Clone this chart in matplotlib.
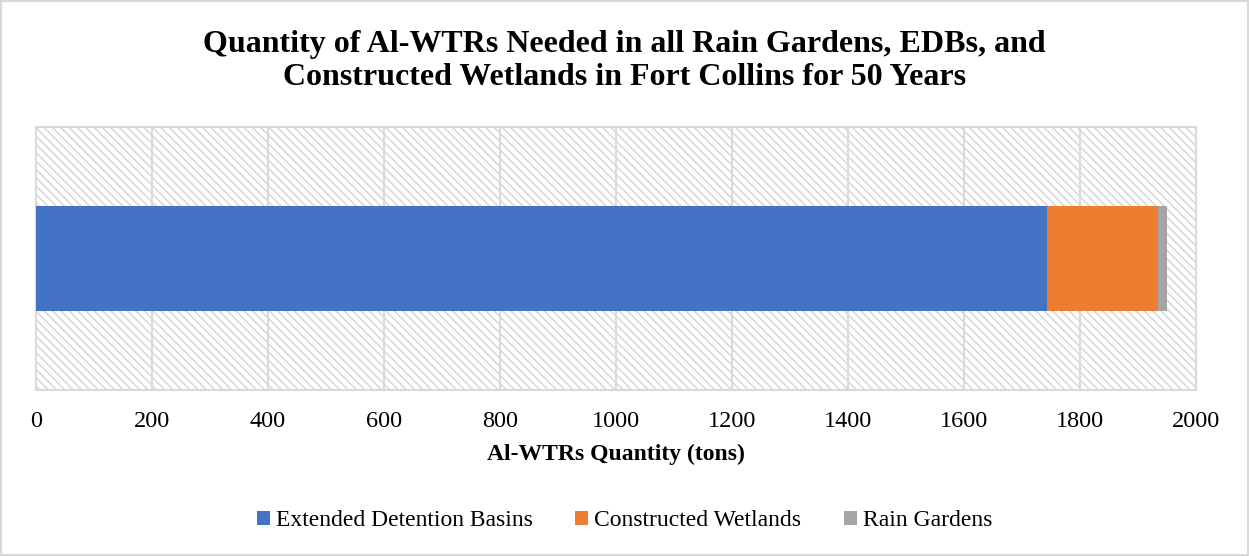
import matplotlib.pyplot as plt
from matplotlib.patches import Rectangle

plt.rcParams['font.family'] = ['Liberation Serif', 'DejaVu Serif']
plt.rcParams['hatch.color'] = '#d4d4d4'
plt.rcParams['hatch.linewidth'] = 1.0

# data (tons of Al-WTRs)
categories = ['Fort Collins']
series_names = ['Extended Detention Basins', 'Constructed Wetlands', 'Rain Gardens']
series_values = [[1743], [191], [16]]
colors = ['#4472c4', '#ed7d31', '#a5a5a5']
x_ticks = [0, 200, 400, 600, 800, 1000, 1200, 1400, 1600, 1800, 2000]

fig = plt.figure(figsize=(12.49, 5.56), dpi=100)
ax = fig.add_axes([0.0288, 0.2986, 0.9288, 0.473])

# hatched plot area background
bg = Rectangle((0, 0), 1, 1, transform=ax.transAxes, facecolor='white',
               edgecolor='#d4d4d4', hatch='\\\\\\\\', linewidth=0, zorder=0)
ax.add_patch(bg)

left = 0
for name, vals, c in zip(series_names, series_values, colors):
    ax.barh(categories, vals, left=left, height=0.4, color=c, label=name, zorder=3)
    left = left + vals[0]

ax.set_xlim(0, 2000)
ax.set_ylim(-0.5, 0.5)
ax.set_xticks(x_ticks)
ax.set_xticklabels([str(t) for t in x_ticks], fontsize=17.5)
ax.set_yticks([])
ax.tick_params(axis='x', length=0, pad=15)
ax.grid(axis='x', color='#d9d9d9', linewidth=1.5, zorder=1)
ax.set_axisbelow(True)
for s in ax.spines.values():
    s.set_color('#d9d9d9')
    s.set_linewidth(1.5)

ax.set_xlabel('Al-WTRs Quantity (tons)', fontsize=17, fontweight='bold', labelpad=9)

fig.text(0.5, 1 - 61 / 556,
         'Quantity of Al-WTRs Needed in all Rain Gardens, EDBs, and\n'
         'Constructed Wetlands in Fort Collins for 50 Years',
         ha='center', va='center', fontsize=23, fontweight='bold', linespacing=1.15)

fig.legend(loc='center', bbox_to_anchor=(0.5, 0.063), ncol=3, frameon=False,
           fontsize=17, handlelength=0.55, handleheight=0.55, handletextpad=0.25,
           columnspacing=1.8)

# light border around the whole chart
fig.patches.append(Rectangle((0.001, 0.001), 0.998, 0.997, transform=fig.transFigure,
                             fill=False, edgecolor='#d9d9d9', linewidth=1.5))

fig.savefig('out.png', dpi=100)
